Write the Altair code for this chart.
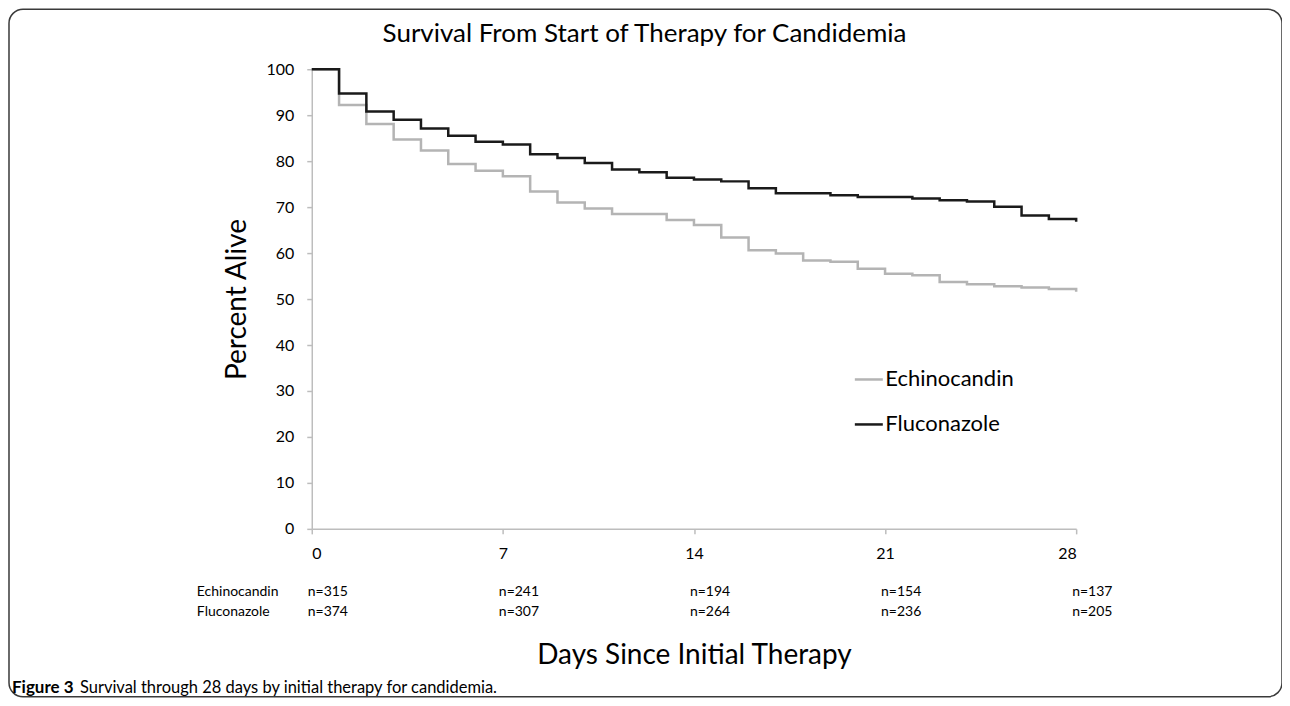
import altair as alt
import pandas as pd

# ---- data ----
days = list(range(29))
echinocandin = [100, 92.2, 88.1, 84.7, 82.3, 79.4, 77.9, 76.7, 73.4, 71.0, 69.7, 68.5, 68.5,
                67.2, 66.1, 63.4, 60.6, 59.9, 58.4, 58.1, 56.6, 55.5, 55.2, 53.7, 53.2, 52.8,
                52.5, 52.2, 51.6]
fluconazole = [100, 94.7, 90.8, 89.0, 87.1, 85.5, 84.2, 83.6, 81.5, 80.7, 79.6, 78.2, 77.6,
               76.4, 76.0, 75.6, 74.1, 73.0, 73.0, 72.6, 72.2, 72.2, 71.9, 71.5, 71.2, 70.1,
               68.2, 67.4, 66.8]
groups = ["Echinocandin", "Fluconazole"]
colors = ["#b4b4b4", "#1a1a1a"]
risk_days = [0, 7, 14, 21, 28]
risk_echinocandin = [315, 241, 194, 154, 137]
risk_fluconazole = [374, 307, 264, 236, 205]
y_ticks = list(range(0, 101, 10))
title_text = "Survival From Start of Therapy for Candidemia"
caption_bold = "Figure 3"
caption_rest = "Survival through 28 days by initial therapy for candidemia."

FONT = "Lato"

surv = pd.DataFrame(
    [{"day": d, "pct": v, "group": "Echinocandin"} for d, v in zip(days, echinocandin)]
    + [{"day": d, "pct": v, "group": "Fluconazole"} for d, v in zip(days, fluconazole)]
)

W, H = 765, 460

lines = alt.Chart(surv).mark_line(interpolate="step-after", strokeWidth=2.5).encode(
    x=alt.X("day:Q", scale=alt.Scale(domain=[0, 28], nice=False, zero=False),
            axis=alt.Axis(values=risk_days, title="Days Since Initial Therapy",
                          titlePadding=80, labelPadding=12)),
    y=alt.Y("pct:Q", scale=alt.Scale(domain=[0, 100], nice=False),
            axis=alt.Axis(values=y_ticks, title="Percent Alive", titlePadding=14,
                          labelPadding=13)),
    color=alt.Color("group:N", scale=alt.Scale(domain=groups, range=colors),
                    legend=alt.Legend(title=None, orient="none", legendX=542, legendY=295,
                                      symbolType="stroke", symbolSize=784,
                                      symbolStrokeWidth=2.5, labelFontSize=22,
                                      labelFont=FONT, labelColor="black",
                                      labelOffset=1, rowPadding=18)),
    order=alt.Order("group:N"),
)

layers = [lines]

# number-at-risk table
row_y = [523, 543]
for grp, counts, yy in zip(groups, [risk_echinocandin, risk_fluconazole], row_y):
    tdf = pd.DataFrame({"day": risk_days, "label": [f"n={c}" for c in counts]})
    layers.append(
        alt.Chart(tdf).mark_text(align="left", baseline="middle", dx=-4, fontSize=14,
                                 font=FONT, color="black")
        .encode(x="day:Q", y=alt.value(yy), text="label:N")
    )
    layers.append(
        alt.Chart(pd.DataFrame({"label": [grp]})).mark_text(
            align="left", baseline="middle", fontSize=14, font=FONT, color="black")
        .encode(x=alt.value(-115), y=alt.value(yy), text="label:N")
    )

# outer rounded frame
layers.append(
    alt.Chart(pd.DataFrame({"f": [0]})).mark_rect(
        fillOpacity=0, stroke="#3a3a3a", strokeWidth=1.5, cornerRadius=14)
    .encode(x=alt.value(-303), x2=alt.value(971), y=alt.value(-60), y2=alt.value(628))
)

# chart title
layers.append(
    alt.Chart(pd.DataFrame({"t": [title_text]})).mark_text(
        align="center", baseline="alphabetic", fontSize=26, font=FONT, color="black")
    .encode(x=alt.value(333), y=alt.value(-27), text="t:N")
)

# caption
layers.append(
    alt.Chart(pd.DataFrame({"t": [caption_bold]})).mark_text(
        align="left", baseline="middle", fontSize=17, fontWeight="bold", font=FONT,
        color="black").encode(x=alt.value(-300), y=alt.value(619), text="t:N")
)
layers.append(
    alt.Chart(pd.DataFrame({"t": [caption_rest]}))
    .mark_text(align="left", baseline="middle", fontSize=16.5, font=FONT, color="black")
    .encode(x=alt.value(-232), y=alt.value(619), text="t:N")
)

chart = alt.layer(*layers).properties(
    width=W, height=H,
    autosize=alt.AutoSizeParams(type="none"),
    padding={"left": 304, "top": 61, "right": 206, "bottom": 169},
).configure_view(stroke=None).configure_axis(
    grid=False, domainColor="#bdbdbd", domainWidth=1.5, tickColor="#bdbdbd", tickWidth=1.5,
    tickSize=5, labelFont=FONT, labelFontSize=16, labelColor="black", titleFont=FONT,
    titleFontSize=28, titleFontWeight="normal", titleColor="black",
)

chart.save("out.html", embed_options={"renderer": "svg", "actions": False})
